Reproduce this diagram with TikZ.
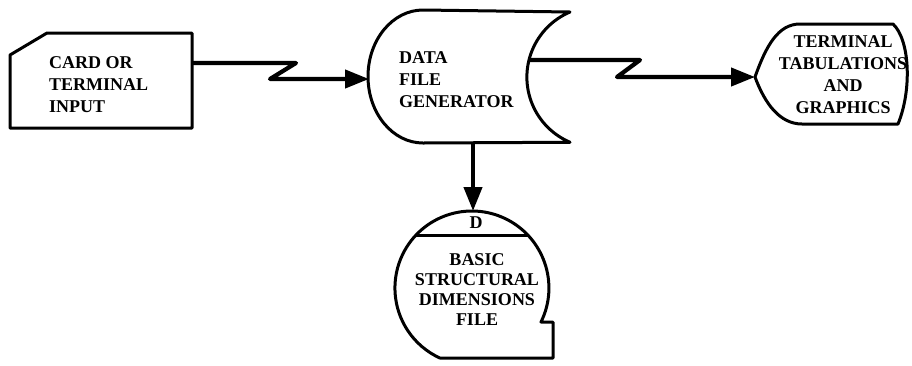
\documentclass[tikz,border=0pt]{standalone}
\usepackage{fontspec}
\setmainfont{Liberation Serif}
\usetikzlibrary{arrows.meta}
\tikzstyle{outline}=[draw,line width=3pt,line join=round]
\tikzstyle{link}=[line width=4.2pt,line join=round,-{Triangle[length=24pt,width=18pt]}]
\tikzstyle{every node}=[inner sep=0pt,font=\fontsize{18}{22}\selectfont\bfseries]

\begin{document}
\begin{tikzpicture}[x=1pt,y=-1pt]
    \useasboundingbox (0,0) rectangle (912,365);
    \draw[outline] (47,33) -- (192,33) -- (192,128) -- (10,128) -- (10,55) -- cycle;
    \node[align=left, anchor=west] (card) at (49,85) {CARD OR\\TERMINAL\\INPUT};
    \coordinate (card-out) at (192,63);
    \draw[outline] (423,10) -- (570,12) arc[start angle=113, end angle=247, radius=70.75pt]
        -- (423,143) arc[start angle=270, end angle=90, x radius=55pt, y radius=66.5pt] -- cycle;
    \node[align=left, anchor=west] (dfg) at (399,80) {DATA\\FILE\\GENERATOR};
    \coordinate (dfg-in) at (369,79);
    \coordinate (dfg-out) at (529,60);
    \coordinate (dfg-down) at (473,143);
    \draw[outline] (755,77) .. controls (766,46) and (778,24) .. (800,24) -- (893,24)
        .. controls (910,40) and (912,90) .. (898,124) -- (802,124)
        .. controls (780,124) and (765,104) .. cycle;
    \node[align=center] (ttg) at (843,75) {TERMINAL\\TABULATIONS\\AND\\GRAPHICS};
    \coordinate (ttg-in) at (755,77);
    \draw[outline] (541,322) arc[start angle=-26.2, end angle=245.4, radius=77pt]
        -- (553,358) -- (553,322) -- cycle;
    \draw[outline] (416,235) -- (528,235);
    \node (bsdf-key) at (476,223) {D};
    \node[align=center, font=\fontsize{18}{20}\selectfont\bfseries] (bsdf) at (477,290)
        {BASIC\\STRUCTURAL\\DIMENSIONS\\FILE};
    \coordinate (bsdf-top) at (473,211);
    \draw[link] (card-out) -- ++(104,0) -- ++(-26,16) -- (dfg-in);
    \draw[link] (dfg-out) -- ++(111,0) -- ++(-23,17) -- (ttg-in);
    \draw[link] (dfg-down) -- (bsdf-top);
\end{tikzpicture}
\end{document}
